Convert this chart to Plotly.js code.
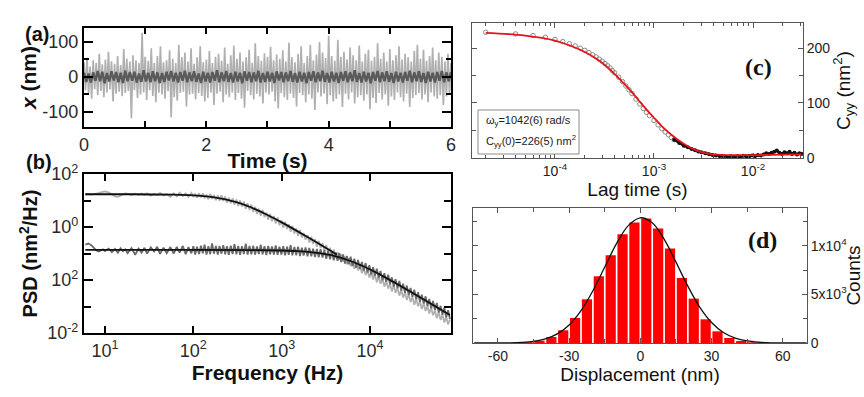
<!DOCTYPE html>
<html><head><meta charset="utf-8">
<script src="https://cdn.plot.ly/plotly-3.0.1.min.js"></script>
<style>html,body{margin:0;padding:0;background:#fff}#chart{width:864px;height:397px}</style>
</head><body><div id="chart"></div>
<script>
// ---------- (a) position time traces (nm), evenly sampled over 0-6 s ----------
const posWeak = [
42,-38,55,-46,30,-62,48,-35,40,-52,
66,-40,36,-58,50,-44,72,-36,45,-70,
38,-48,60,-42,34,-55,80,-46,52,-40,
44,-118,62,-38,48,-60,40,-50,126,-44,
58,-66,46,-38,82,-54,40,-72,60,-45,
88,-50,42,-62,48,-40,76,-115,52,-58,
40,-68,92,-46,56,-42,70,-84,44,-50,
82,-48,38,-64,56,-46,88,-54,42,-70,
50,-60,74,-44,40,-80,58,-48,66,-42,
46,-72,84,-50,38,-58,62,-44,90,-66,
52,-46,70,-62,44,-88,56,-40,78,-52,
40,-64,96,-48,60,-56,46,-76,68,-44,
58,-50,86,-42,48,-70,64,-90,52,-46,
76,-58,44,-66,98,-48,56,-60,42,-84,
66,-46,88,-52,40,-72,60,-50,92,-62,
48,-94,64,-44,100,-56,70,-48,54,-78,
118,-52,60,-70,46,-62,106,-50,58,-86,
72,-48,50,-64,84,-44,62,-76,48,-58,
90,-52,44,-68,66,-50,78,-92,46,-60,
58,-74,96,-46,52,-64,70,-50,44,-82,
80,-56,48,-66,62,-44,88,-58,50,-70,
66,-48,56,-86,44,-60,74,-52,92,-46,
52,-64,78,-50,46,-72,60,-44,84,-56,
48,-62,70,-52,58,-80,44,-56,66,-48,
40];
const posStiff = [
12,-14,10,-16,13,-11,17,-12,15,-18,
11,-13,16,-10,14,-15,12,-17,18,-12,
14,-11,15,-16,10,-14,19,-13,12,-15,
16,-12,13,-17,11,-14,15,-10,17,-13,
12,-16,14,-11,18,-15,13,-12,16,-14,
10,-17,15,-13,12,-16,14,-11,19,-15,
13,-12,17,-14,11,-16,15,-13,12,-18,
16,-11,14,-15,13,-12,18,-16,11,-14,
15,-13,12,-17,16,-10,14,-15,13,-12,
17,-14,11,-16,15,-13,12,-18,14,-11,
16,-15,13,-12,18,-14,11,-16,15,-13,
12,-17,14,-11,16,-15,13,-12,19,-14,
11,-16,15,-13,12,-18,14,-11,17,-15,
13,-12,16,-14,11,-17,15,-13,12,-16,
14,-11,18,-15,13,-12,16,-14,11,-17,
15,-13,12,-16,14,-11,17,-15,13,-12,
14];

// ---------- (b) power spectral densities (nm^2/Hz) ----------
const psdFreq = [
6,6.5,7,7.5,8,8.5,9,9.5,10,11,
12,13,14,15,16,17,18,20,22,24,
26,28,30,33,36,39,42,46,50,55,
60,65,70,76,82,88,95,100,105,110,
116,122,128,134,141,148,155,163,171,180,
189,198,208,218,229,240,252,265,278,292,
307,322,338,355,373,392,411,432,453,476,
500,525,551,579,608,638,670,704,739,776,
815,855,898,943,990,1040,1090,1150,1200,1260,
1320,1390,1460,1530,1610,1690,1770,1860,1960,2050,
2160,2260,2380,2500,2620,2750,2890,3040,3190,3350,
3520,3690,3880,4070,4280,4490,4710,4950,5200,5460,
5730,6020,6320,6630,6960,7310,7680,8060,8470,8890,
9330,9800,10300,10800,11300,11900,12500,13100,13800,14500,
15200,16000,16800,17600,18500,19400,20400,21400,22500,23600,
24800,26000,27300,28700,30100,31600,33200,34900,36600,38400,
40400,42400,44500,46700,49100,51500,54100,56800,59700,62700,
65800,69100,72500,76200,80000];
const psdWeak = [
17.2,17.6,16.8,17.2,18.0,18.9,20.2,21.7,22.2,20.2,
16.4,14.3,13.7,15.0,17.2,18.5,17.6,16.1,18.0,16.4,
18.3,16.3,18.7,15.2,17.8,15.8,19.4,15.3,17.6,13.6,
18.6,14.4,19.7,14.8,18.5,13.6,19.4,13.9,18.1,12.7,
18.5,13.0,18.5,12.1,16.7,11.1,17.7,11.5,16.2,10.4,
15.7,9.9,15.6,9.5,14.0,8.3,12.7,7.9,12.2,6.9,
10.9,6.2,10.1,5.9,9.2,4.9,7.8,4.4,7.0,3.7,
5.83,3.12,4.93,2.63,4.43,2.36,3.53,1.87,3.13,1.66,
2.59,1.37,2.28,1.17,1.79,0.94,1.57,0.84,1.28,0.67,
1.09,0.57,0.88,0.46,0.77,0.40,0.59,0.33,0.50,0.26,
0.43,0.23,0.35,0.18,0.30,0.16,0.25,0.127,0.21,0.109,
0.165,0.0863,0.142,0.0728,0.112,0.0571,0.0944,0.0504,0.0759,0.0395,
0.0653,0.0333,0.0513,0.0262,0.0434,0.0231,0.0373,0.0182,0.0286,0.0153,
0.0242,0.0123,0.0203,0.0104,0.0161,0.00817,0.0138,0.00721,0.0110,0.00562,
0.00931,0.00473,0.00728,0.00373,0.00630,0.00330,0.00506,0.00258,0.00426,0.00217,
0.00342,0.00175,0.00289,0.00147,0.00227,0.00116,0.00195,0.00102,0.00157,0.000804,
0.00132,0.000675,0.00106,0.000543,0.000893,0.000468,0.000703,0.000359,0.000605,0.000308,
0.000486,0.000248,0.000410,0.000209,0.000322];
const psdStiff = [
0.216,0.237,0.206,0.164,0.130,0.119,0.127,0.143,0.124,0.153,
0.113,0.149,0.108,0.156,0.121,0.143,0.103,0.160,0.0899,0.153,
0.108,0.164,0.0986,0.171,0.119,0.179,0.0964,0.167,0.103,0.175,
0.0986,0.179,0.108,0.192,0.0942,0.175,0.101,0.188,0.0920,0.179,
0.0964,0.197,0.101,0.216,0.0920,0.188,0.0942,0.242,0.0986,0.192,
0.0918,0.192,0.0984,0.206,0.0940,0.187,0.0897,0.196,0.0962,0.225,
0.0938,0.191,0.0895,0.187,0.0957,0.235,0.0914,0.191,0.0933,0.195,
0.0910,0.186,0.0951,0.213,0.0927,0.189,0.0881,0.193,0.0942,0.183,
0.0914,0.200,0.0889,0.181,0.0923,0.188,0.0855,0.182,0.0885,0.206,
0.0853,0.177,0.0859,0.182,0.0805,0.167,0.0845,0.170,0.0785,0.162,
0.0780,0.153,0.0735,0.150,0.0721,0.147,0.0702,0.133,0.0632,0.128,
0.0607,0.119,0.0550,0.108,0.0530,0.104,0.0473,0.0918,0.0417,0.0807,
0.0391,0.0752,0.0338,0.0634,0.0291,0.0568,0.0259,0.0481,0.0229,0.0435,
0.0193,0.0363,0.0160,0.0303,0.0144,0.0269,0.0118,0.0221,0.00968,0.0181,
0.00851,0.0158,0.00692,0.0126,0.00565,0.0108,0.00492,0.00916,0.00399,0.00724,
0.00331,0.00617,0.00269,0.00499,0.00232,0.00432,0.00187,0.00348,0.00151,0.00281,
0.00130,0.00242,0.00105,0.00191,0.000847,0.00161,0.000731,0.00136,0.000587,0.00106,
0.000484,0.000897,0.000390,0.000723,0.000336];
const fitWeakFreq = [6,20,60,100,150,200,250,300,400,500,700,1000,1500,2000,2500,3000,3500,4200];
const fitWeakPsd  = [17.2,17.2,16.6,15.6,13.9,12.1,10.4,8.84,6.41,4.74,2.79,1.49,0.697,0.399,0.258,0.179,0.132,0.092];
const fitStiffFreq = [6,100,500,1000,1500,2000,2500,3000,3500,4000,5000,6000,8000,10000,15000,20000,30000,40000,50000,60000,80000];
const fitStiffPsd  = [0.136,0.136,0.135,0.130,0.124,0.115,0.106,0.0971,0.0879,0.0794,0.0643,0.0521,0.0352,0.0249,0.0123,0.00721,0.00330,0.00187,0.00121,0.000841,0.000474];

// ---------- (c) autocorrelation C_yy (nm^2) vs lag time (s) ----------
const lagEarly = [2e-5,4e-5,6e-5,8e-5,1e-4,1.2e-4,1.4e-4,1.6e-4,1.8e-4,2e-4,
  2.2e-4,2.4e-4,2.6e-4,2.8e-4,3e-4,3.2e-4,3.4e-4,3.6e-4,3.8e-4,4e-4,
  4.4e-4,4.8e-4,5.2e-4,5.6e-4,6e-4,6.6e-4,7.2e-4,7.8e-4,8.4e-4,9e-4,
  1e-3,1.1e-3,1.2e-3,1.3e-3,1.4e-3,1.5e-3,1.6e-3];
const corrEarly = [229,226,223,220,216,212,208,204,200,196,
  192,188,184,180,176,172,168,164,159,155,
  147,139,131,124,117,107,98,90,83,77,
  68,60,53,47,42,37,33];
const lagLate = [1.6e-3,1.8e-3,2e-3,2.2e-3,2.4e-3,2.6e-3,2.8e-3,3e-3,3.3e-3,3.6e-3,
  3.9e-3,4.2e-3,4.6e-3,5e-3,5.5e-3,6e-3,6.5e-3,7e-3,7.5e-3,8e-3,
  8.6e-3,9.2e-3,9.8e-3,1.05e-2,1.12e-2,1.2e-2,1.28e-2,1.36e-2,1.45e-2,1.54e-2,
  1.64e-2,1.74e-2,1.85e-2,1.96e-2,2.08e-2,2.2e-2,2.34e-2,2.48e-2,2.62e-2,2.78e-2,
  2.94e-2,3.1e-2];
const corrLate = [33,27,22,19,16,13.5,11.5,10,8,6.5,
  5,4,3,2.5,2,2.5,2,3,2,3.5,
  2.5,3,4,3,5,4,6,8,7,9,
  11,13,9,7,10,8,11,7,9,6,
  8,7];
const corrFitLag = [2e-5,5e-5,1e-4,1.5e-4,2e-4,2.6e-4,3.2e-4,3.9e-4,4.7e-4,5.7e-4,7e-4,8.5e-4,1e-3,1.24e-3,1.5e-3,1.8e-3,2.2e-3,2.7e-3,3.3e-3,4e-3,5e-3,6e-3,8e-3,1.26e-2,2e-2,3.1e-2];
const corrFit = [228,223,214,203,193,181,169,155,140,124,105,87,73,55,42,31,21,13,8.5,6,5,4.6,4.6,5,5.5,6];

// ---------- (d) displacement histogram ----------
const binCenters = [-57.5,-52.5,-47.5,-42.5,-37.5,-32.5,-27.5,-22.5,-17.5,-12.5,-7.5,-2.5,2.5,7.5,12.5,17.5,22.5,27.5,32.5,37.5,42.5,47.5,52.5,57.5];
const binCounts = [10,30,90,240,620,1310,2580,4500,6870,9040,11200,12400,12820,11790,9720,6700,4570,2440,1200,515,206,70,25,8];
const gaussX = [-70,-65,-60,-55,-50,-45,-40,-35,-30,-25,-20,-15,-10,-5,0,5,10,15,20,25,30,35,40,45,50,55,60,65,70];
const gaussY = [0.5,2,6,21,64,173,425,940,1860,3330,5380,7820,10260,12110,12890,12370,10690,8330,5850,3700,2110,1080,500,210,79,21,8,2,0.5];

// ---------- tick labels ----------
const timeTicks = [0,2,4,6];
const timeTickText = ['0','2','4','6'];
const posTicks = [-100,0,100];
const posTickText = ['-100','0','100'];
const freqTicks = [10,100,1000,10000];
const freqTickText = ['10<sup>1</sup>','10<sup>2</sup>','10<sup>3</sup>','10<sup>4</sup>'];
const psdTicks = [100,1,0.01,0.0001];
const psdTickText = ['10<sup>2</sup>','10<sup>0</sup>','10<sup>2</sup>','10<sup>-2</sup>'];
const psdMinor = [10,0.1,0.001];
const lagTicks = [1e-4,1e-3,1e-2];
const lagTickText = ['10<sup>-4</sup>','10<sup>-3</sup>','10<sup>-2</sup>'];
const lagMinor = [2e-5,3e-5,4e-5,5e-5,6e-5,7e-5,8e-5,9e-5,2e-4,3e-4,4e-4,5e-4,6e-4,7e-4,8e-4,9e-4,2e-3,3e-3,4e-3,5e-3,6e-3,7e-3,8e-3,9e-3,2e-2,3e-2];
const corrTicks = [0,100,200];
const corrTickText = ['0','100','200'];
const dispTicks = [-60,-30,0,30,60];
const dispTickText = ['-60','-30','0','30','60'];
const countTicks = [0,5000,10000];
const countTickText = ['0','5x10<sup>3</sup>','1x10<sup>4</sup>'];

const SANS = 'Arial, "Liberation Sans", Helvetica, sans-serif';
const SERIF = '"Times New Roman", "Liberation Serif", Times, serif';

const traces = [
  {x0:0, dx:0.025, y:posWeak, type:'scatter', mode:'lines', line:{color:'#b0b0b0', width:1.7}, xaxis:'x', yaxis:'y', hoverinfo:'skip'},
  {x0:0, dx:0.0375, y:posStiff, type:'scatter', mode:'lines', line:{color:'#5a5a5a', width:2.4}, xaxis:'x', yaxis:'y', hoverinfo:'skip'},
  {x:psdFreq, y:psdWeak, type:'scatter', mode:'lines', line:{color:'#b0b0b0', width:1.8}, xaxis:'x2', yaxis:'y2'},
  {x:psdFreq, y:psdStiff, type:'scatter', mode:'lines', line:{color:'#6a6a6a', width:1.8}, xaxis:'x2', yaxis:'y2'},
  {x:fitWeakFreq, y:fitWeakPsd, type:'scatter', mode:'lines', line:{color:'#111', width:1.8, shape:'spline'}, xaxis:'x2', yaxis:'y2'},
  {x:fitStiffFreq, y:fitStiffPsd, type:'scatter', mode:'lines', line:{color:'#111', width:1.8, shape:'spline'}, xaxis:'x2', yaxis:'y2'},
  {x:lagEarly, y:corrEarly, type:'scatter', mode:'markers', marker:{symbol:'circle-open', size:4.5, color:'#8a8a8a', line:{width:1}}, xaxis:'x3', yaxis:'y3'},
  {x:lagLate, y:corrLate, type:'scatter', mode:'lines+markers', line:{color:'#111', width:2.5}, marker:{symbol:'circle', size:4, color:'#111'}, xaxis:'x3', yaxis:'y3'},
  {x:corrFitLag, y:corrFit, type:'scatter', mode:'lines', line:{color:'#e8141c', width:1.8, shape:'spline'}, xaxis:'x3', yaxis:'y3'},
  {x:binCenters, y:binCounts, type:'bar', width:4.3, marker:{color:'#ff0000', line:{width:0}}, xaxis:'x4', yaxis:'y4'},
  {x:gaussX, y:gaussY, type:'scatter', mode:'lines', line:{color:'#111', width:1.3, shape:'spline'}, xaxis:'x4', yaxis:'y4'}
];

function boldAxis(extra){
  return Object.assign({
    showline:true, linewidth:2, linecolor:'#000', mirror:'ticks',
    ticks:'inside', ticklen:7, tickwidth:2, tickcolor:'#000',
    showgrid:false, zeroline:false, automargin:false,
    tickfont:{family:SANS, size:18, color:'#2a2a2a'}
  }, extra);
}
function thinAxis(extra){
  return Object.assign({
    showline:true, linewidth:1, linecolor:'#555', mirror:'ticks',
    ticks:'inside', ticklen:5, tickwidth:1, tickcolor:'#555',
    showgrid:false, zeroline:false, automargin:false,
    tickfont:{family:SANS, size:14, color:'#222'}
  }, extra);
}
function boldMinor(extra){ return Object.assign({ticks:'inside', ticklen:6, tickwidth:2, tickcolor:'#000', showgrid:false}, extra); }
function thinMinor(extra){ return Object.assign({ticks:'inside', ticklen:4, tickwidth:1, tickcolor:'#555', showgrid:false}, extra); }

const layout = {
  width:864, height:397, margin:{l:0,r:0,t:0,b:0},
  paper_bgcolor:'#fff', plot_bgcolor:'#fff', showlegend:false,
  font:{family:SANS, color:'#222'},
  xaxis: boldAxis({domain:[0.0972,0.5220], anchor:'y', range:[0,6], tickmode:'array', tickvals:timeTicks, ticktext:timeTickText, ticklen:6,
    minor: boldMinor({tickmode:'linear', tick0:0, dtick:1}),
    title:{text:'<b>Time (s)</b>', font:{family:SANS, size:21, color:'#111'}, standoff:0}}),
  yaxis: boldAxis({domain:[0.6801,0.9295], anchor:'x', range:[-143,140], tickmode:'array', tickvals:posTicks, ticktext:posTickText, ticklen:9,
    minor: boldMinor({tickmode:'linear', tick0:0, dtick:50, ticklen:5}),
    title:{text:'<b><i>x</i> (nm)</b>', font:{family:SANS, size:21, color:'#111'}, standoff:0}}),
  xaxis2: boldAxis({domain:[0.0972,0.5220], anchor:'y2', type:'log', range:[0.763,4.915], tickmode:'array', tickvals:freqTicks, ticktext:freqTickText,
    title:{text:'<b>Frequency (Hz)</b>', font:{family:SANS, size:21, color:'#111'}, standoff:6}}),
  yaxis2: boldAxis({domain:[0.1612,0.5617], anchor:'x2', type:'log', range:[-4,2], tickmode:'array', tickvals:psdTicks, ticktext:psdTickText, ticklen:9,
    minor: boldMinor({tickmode:'array', tickvals:psdMinor, ticklen:7}),
    title:{text:'<b>PSD (nm<sup>2</sup>/Hz)</b>', font:{family:SANS, size:20, color:'#111'}, standoff:4}}),
  xaxis3: thinAxis({domain:[0.5463,0.9294], anchor:'y3', type:'log', range:[-4.838,-1.495], tickmode:'array', tickvals:lagTicks, ticktext:lagTickText,
    minor: thinMinor({tickmode:'array', tickvals:lagMinor, ticklen:3}),
    title:{text:'Lag time (s)', font:{family:SANS, size:19, color:'#111'}, standoff:2}}),
  yaxis3: thinAxis({domain:[0.6020,0.9421], anchor:'x3', side:'right', range:[-0.5,246], tickmode:'array', tickvals:corrTicks, ticktext:corrTickText,
    minor: thinMinor({tickmode:'linear', tick0:0, dtick:50}),
    title:{text:'C<sub>yy</sub> (nm<sup>2</sup>)', font:{family:SANS, size:19, color:'#111'}, standoff:4}}),
  xaxis4: thinAxis({domain:[0.5475,0.9340], anchor:'y4', range:[-70.5,70.2], tickmode:'array', tickvals:dispTicks, ticktext:dispTickText,
    minor: thinMinor({tickmode:'linear', tick0:0, dtick:15}),
    title:{text:'Displacement (nm)', font:{family:SANS, size:19, color:'#111'}, standoff:2}}),
  yaxis4: thinAxis({domain:[0.1360,0.4761], anchor:'x4', side:'right', range:[0,13900], tickmode:'array', tickvals:countTicks, ticktext:countTickText,
    minor: thinMinor({tickmode:'linear', tick0:0, dtick:2500}),
    title:{text:'Counts', font:{family:SANS, size:19, color:'#111'}, standoff:4}}),
  shapes:[
    {type:'rect', xref:'paper', yref:'paper', x0:478/864, x1:579/864, y0:1-154/397, y1:1-110/397, line:{color:'#8a8a8a', width:1}, fillcolor:'#fff'}
  ],
  annotations:[
    {text:'<b>(a)</b>', xref:'paper', yref:'paper', x:23/864, y:1-21/397, showarrow:false, font:{family:SANS, size:20, color:'#111'}},
    {text:'<b>(b)</b>', xref:'paper', yref:'paper', x:24/864, y:1-162/397, showarrow:false, font:{family:SANS, size:20, color:'#111'}},
    {text:'<b>(c)</b>', xref:'paper', yref:'paper', x:774/864, y:1-52/397, showarrow:false, font:{family:SERIF, size:24, color:'#111'}},
    {text:'<b>(d)</b>', xref:'paper', yref:'paper', x:779/864, y:1-240/397, showarrow:false, font:{family:SERIF, size:24, color:'#111'}},
    {text:'ω<sub>y</sub>=1042(6) rad/s', xref:'paper', yref:'paper', x:484/864, y:1-121/397, xanchor:'left', yanchor:'middle', showarrow:false, font:{family:SANS, size:11, color:'#222'}},
    {text:'C<sub>yy</sub>(0)=226(5) nm<sup>2</sup>', xref:'paper', yref:'paper', x:484/864, y:1-141/397, xanchor:'left', yanchor:'middle', showarrow:false, font:{family:SANS, size:11, color:'#222'}}
  ]
};

Plotly.newPlot('chart', traces, layout, {displayModeBar:false, staticPlot:true});
</script></body></html>
